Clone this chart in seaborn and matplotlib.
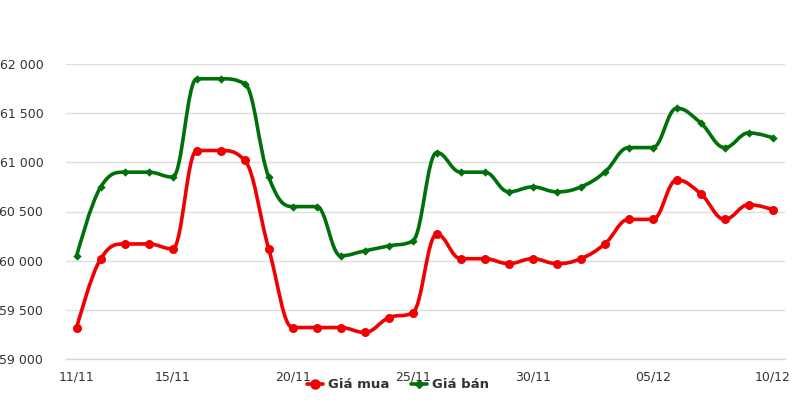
import numpy as np
import pandas as pd
import matplotlib
matplotlib.use("Agg")
import matplotlib.pyplot as plt
from matplotlib.path import Path
from matplotlib.patches import PathPatch
from matplotlib.lines import Line2D
import seaborn as sns

dates = ["11/11", "12/11", "13/11", "14/11", "15/11", "16/11", "17/11", "18/11", "19/11", "20/11",
         "21/11", "22/11", "23/11", "24/11", "25/11", "26/11", "27/11", "28/11", "29/11", "30/11",
         "01/12", "02/12", "03/12", "04/12", "05/12", "06/12", "07/12", "08/12", "09/12", "10/12"]
gia_mua = [59320, 60020, 60170, 60170, 60120, 61120, 61120, 61020, 60120, 59320,
           59320, 59320, 59270, 59420, 59470, 60270, 60020, 60020, 59970, 60020,
           59970, 60020, 60170, 60420, 60420, 60820, 60680, 60420, 60570, 60520]
gia_ban = [60050, 60750, 60900, 60900, 60850, 61850, 61850, 61800, 60850, 60550,
           60550, 60050, 60100, 60150, 60200, 61100, 60900, 60900, 60700, 60750,
           60700, 60750, 60900, 61150, 61150, 61550, 61400, 61150, 61300, 61250]
xtick_labels = ["11/11", "15/11", "20/11", "25/11", "30/11", "05/12", "10/12"]
ytick_values = [59000, 59500, 60000, 60500, 61000, 61500, 62000]

RED = "#f00000"
GREEN = "#00700a"

df = pd.DataFrame({"idx": np.arange(len(dates)), "date": dates,
                   "Giá mua": gia_mua, "Giá bán": gia_ban})

sns.set_theme(style="white")
plt.rcParams["font.family"] = ["DejaVu Sans"]

fig = plt.figure(figsize=(8.02, 4.13), dpi=100)
ax = fig.add_axes([65.5 / 802, 54 / 413, (785 - 65.5) / 802, (359 - 64) / 413])


def spline_path(xs, ys, smoothing=1.5):
    """Highcharts-like spline through the points, as Bezier path."""
    n = len(xs)
    denom = smoothing + 1
    left = [None] * n
    right = [None] * n
    for i in range(n):
        x, y = xs[i], ys[i]
        if i == 0 or i == n - 1:
            left[i] = (x, y)
            right[i] = (x, y)
            continue
        lx, ly = xs[i - 1], ys[i - 1]
        nx, ny = xs[i + 1], ys[i + 1]
        lcx = (smoothing * x + lx) / denom
        lcy = (smoothing * y + ly) / denom
        rcx = (smoothing * x + nx) / denom
        rcy = (smoothing * y + ny) / denom
        corr = ((rcy - lcy) * (rcx - x)) / (rcx - lcx) + y - rcy
        lcy += corr
        rcy += corr
        if lcy > ly and lcy > y:
            lcy = max(ly, y)
            rcy = 2 * y - lcy
        elif lcy < ly and lcy < y:
            lcy = min(ly, y)
            rcy = 2 * y - lcy
        if rcy > ny and rcy > y:
            rcy = max(ny, y)
            lcy = 2 * y - rcy
        elif rcy < ny and rcy < y:
            rcy = min(ny, y)
            lcy = 2 * y - rcy
        left[i] = (lcx, lcy)
        right[i] = (rcx, rcy)
    verts = [(xs[0], ys[0])]
    codes = [Path.MOVETO]
    for i in range(1, n):
        verts += [right[i - 1], left[i], (xs[i], ys[i])]
        codes += [Path.CURVE4] * 3
    return Path(verts, codes)


for col, color in [("Giá mua", RED), ("Giá bán", GREEN)]:
    p = spline_path(df["idx"].astype(float).tolist(), df[col].astype(float).tolist())
    ax.add_patch(PathPatch(p, facecolor="none", edgecolor=color, lw=2.6,
                           capstyle="round", joinstyle="round", zorder=3))

sns.scatterplot(data=df, x="idx", y="Giá mua", ax=ax, color=RED, marker="o",
                s=42, edgecolor=RED, linewidth=0, zorder=4, legend=False)
sns.scatterplot(data=df, x="idx", y="Giá bán", ax=ax, color=GREEN, marker="D",
                s=18, edgecolor=GREEN, linewidth=0, zorder=4, legend=False)

ax.set_xlim(-0.467, 29.51)
ax.set_ylim(59000, 62000)
ax.set_yticks(ytick_values)
ax.set_yticklabels([f"{v:,}".replace(",", " ") for v in ytick_values])
xt = [dates.index(l) for l in xtick_labels]
ax.set_xticks(xt)
ax.set_xticklabels(xtick_labels)
ax.tick_params(axis="y", length=0, pad=16, labelsize=9, labelcolor="#333333")
ax.tick_params(axis="x", length=0, pad=8, labelsize=9, labelcolor="#333333")
ax.grid(axis="y", color="#dedede", lw=1)
ax.set_axisbelow(True)
for s in ["top", "right", "left"]:
    ax.spines[s].set_visible(False)
ax.spines["bottom"].set_color("#ccd6eb")
ax.spines["bottom"].set_linewidth(1)
ax.set_xlabel("")
ax.set_ylabel("")

handles = [Line2D([0], [0], color=RED, lw=2.6, marker="o", markersize=6.5),
           Line2D([0], [0], color=GREEN, lw=2.6, marker="D", markersize=4)]
fig.legend(handles, ["Giá mua", "Giá bán"], loc="center", bbox_to_anchor=(398 / 802, 1 - 385 / 413),
           ncol=2, frameon=False, handlelength=1.2, handletextpad=0.4, columnspacing=1.6,
           prop={"size": 9.5, "weight": "bold"}, labelcolor="#333333")

fig.savefig("out.png", dpi=100)
